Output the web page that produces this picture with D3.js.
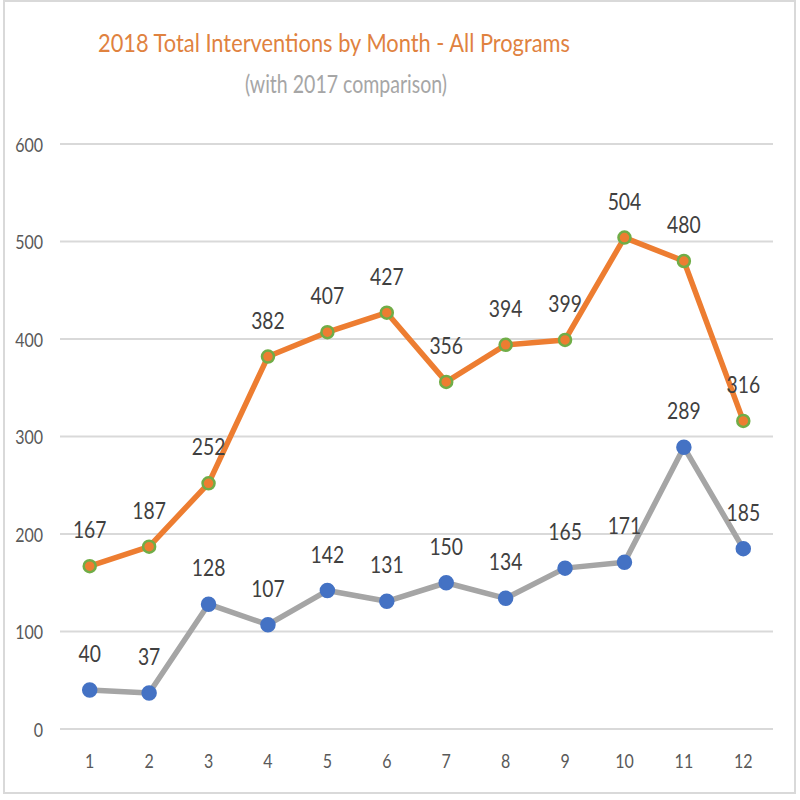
<!DOCTYPE html>
<html><head><meta charset="utf-8">
<script src="https://cdn.jsdelivr.net/npm/d3@7"></script>
<style>body{margin:0;background:#fff}svg{display:block}</style>
</head><body>
<svg id="c" width="800" height="800"></svg>
<script>
const months = ["1","2","3","4","5","6","7","8","9","10","11","12"];
const values2018 = [167,187,252,382,407,427,356,394,399,504,480,316];
const values2017 = [40,37,128,107,142,131,150,134,165,171,289,185];
const yTicks = [0,100,200,300,400,500,600];
const titleText = "2018 Total Interventions by Month - All Programs";
const subtitleText = "(with 2017 comparison)";

const font = "Lato, 'Open Sans', sans-serif";
const svg = d3.select("#c");
svg.append("rect").attr("x",4).attr("y",1).attr("width",791).attr("height",792)
  .attr("fill","#fff").attr("stroke","#d9d9d9").attr("stroke-width",2);

const x = d3.scaleBand().domain(months).range([60,773]);
const y = d3.scaleLinear().domain([0,600]).range([729,144]);

svg.append("text").attr("x",334).attr("y",52).attr("text-anchor","middle")
  .attr("font-family",font).attr("font-size",25).attr("fill","#E0823F")
  .attr("textLength",472).attr("lengthAdjust","spacingAndGlyphs").text(titleText);
svg.append("text").attr("x",346).attr("y",93).attr("text-anchor","middle")
  .attr("font-family",font).attr("font-size",25).attr("fill","#A6A6A6")
  .attr("textLength",202).attr("lengthAdjust","spacingAndGlyphs").text(subtitleText);

// gridlines
svg.append("g").selectAll("line").data(yTicks).join("line")
  .attr("x1",60).attr("x2",773).attr("y1",d=>y(d)).attr("y2",d=>y(d))
  .attr("stroke","#d9d9d9").attr("stroke-width",2);

// y axis
const ya = svg.append("g").attr("transform","translate(43,0)")
  .call(d3.axisLeft(y).tickValues(yTicks).tickSize(0).tickPadding(0));
ya.select(".domain").remove();
ya.selectAll("text").attr("x",0).attr("dy",null).attr("y",7)
  .attr("transform","scale(0.8,1)")
  .attr("font-family",font).attr("font-size",20).attr("fill","#595959");

// x axis
const xa = svg.append("g").attr("transform","translate(0,768)")
  .call(d3.axisBottom(x).tickSize(0).tickPadding(0));
xa.select(".domain").remove();
xa.selectAll("text").attr("y",0).attr("dy",null)
  .attr("transform","scale(0.8,1)")
  .attr("font-family",font).attr("font-size",20).attr("fill","#595959");

const cx = (d,i)=>x(months[i])+x.bandwidth()/2;
const line = d3.line().x((d,i)=>cx(d,i)).y(d=>y(d));

function series(vals, lineColor, fill, stroke, r){
  svg.append("path").datum(vals).attr("d",line).attr("fill","none")
    .attr("stroke",lineColor).attr("stroke-width",5.5).attr("stroke-linejoin","round");
  svg.append("g").selectAll("circle").data(vals).join("circle")
    .attr("cx",cx).attr("cy",d=>y(d)).attr("r",r)
    .attr("fill",fill).attr("stroke",stroke).attr("stroke-width",2.5);
}
series(values2017, "#A5A5A5", "#4472C4", "#4472C4", 6.5);
series(values2018, "#ED7D31", "#ED7D31", "#70AD47", 6);

function labels(vals){
  svg.append("g").selectAll("text").data(vals).join("text")
    .attr("transform",(d,i)=>`translate(${cx(d,i)},${y(d)-28}) scale(0.84,1)`)
    .attr("text-anchor","middle")
    .attr("font-family",font).attr("font-size",23).attr("fill","#404040")
    .text(d=>d);
}
labels(values2017);
labels(values2018);
</script>
</body></html>
